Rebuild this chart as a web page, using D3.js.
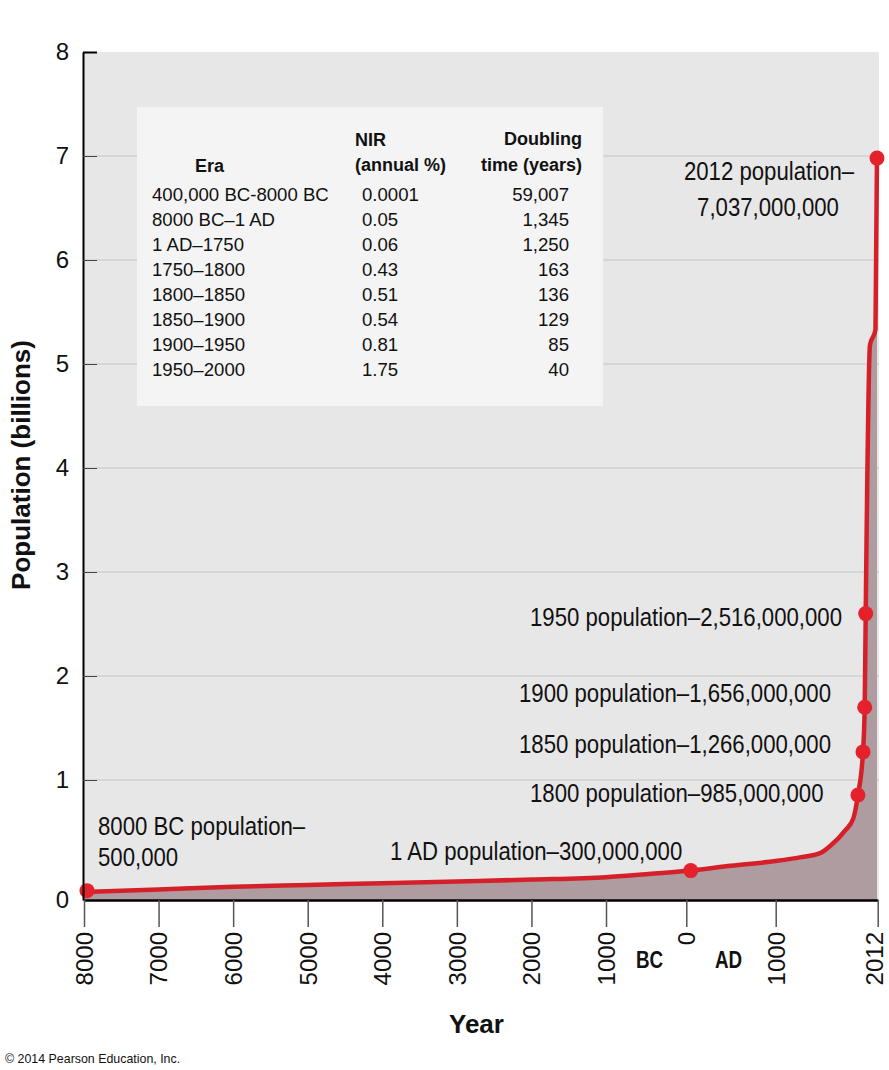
<!DOCTYPE html>
<html><head><meta charset="utf-8">
<script src="https://cdn.jsdelivr.net/npm/d3@7"></script>
<style>body{margin:0;background:#fff;} svg{display:block;}</style>
</head><body>
<script>
// ---- data (years: negative = BC; population in billions) ----
const curveYears = [-8000, -7000, -6000, -5000, -4000, -3000, -2000, -1000, -500, 50, 500, 1000, 1240, 1440, 1540, 1690, 1770, 1816, 1866, 1883, 1893, 1935, 1990, 2005];
const curvePop   = [0.067, 0.088, 0.11, 0.125, 0.14, 0.155, 0.17, 0.19, 0.215, 0.245, 0.285, 0.325, 0.355, 0.39, 0.45, 0.58, 0.68, 0.875, 1.27, 1.70, 2.60, 5.18, 5.33, 6.98];
const dotYears = [-7960, 50, 1816, 1866, 1883, 1893, 2005];
const dotPop   = [0.078, 0.245, 0.875, 1.27, 1.70, 2.60, 6.98];
const xTickValues = [-8000, -7000, -6000, -5000, -4000, -3000, -2000, -1000, 0, 1000, 2012];
const xTickLabels = ["8000", "7000", "6000", "5000", "4000", "3000", "2000", "1000", "0", "1000", "2012"];
const yTickValues = [0, 1, 2, 3, 4, 5, 6, 7, 8];
const tableEras = ["400,000 BC-8000 BC", "8000 BC\u20131 AD", "1 AD\u20131750", "1750\u20131800", "1800\u20131850", "1850\u20131900", "1900\u20131950", "1950\u20132000"];
const tableNIR = ["0.0001", "0.05", "0.06", "0.43", "0.51", "0.54", "0.81", "1.75"];
const tableDoubling = ["59,007", "1,345", "1,250", "163", "136", "129", "85", "40"];
const annotationLines = [
  "8000 BC population\u2013", "500,000",
  "1 AD population\u2013300,000,000",
  "1800 population\u2013985,000,000",
  "1850 population\u20131,266,000,000",
  "1900 population\u20131,656,000,000",
  "1950 population\u20132,516,000,000",
  "2012 population\u2013", "7,037,000,000"
];

// ---- drawing ----
const W = 889, H = 1070;
const SANS = "'Liberation Sans', Arial, Helvetica, sans-serif";
const svg = d3.select("body").append("svg").attr("width", W).attr("height", H);
svg.append("rect").attr("width", W).attr("height", H).attr("fill", "#fff");

const x = d3.scaleLinear().domain([-8000, -1000, 0, 1000, 2012]).range([84, 606, 686.3, 775.7, 877.7]);
const y = d3.scaleLinear().domain([0, 1, 8]).range([900, 780, 52]);

// plot background
svg.append("rect").attr("x", 84).attr("y", y(8)).attr("width", 879 - 84).attr("height", y(0) - y(8)).attr("fill", "#e7e7e7");

// gridlines
svg.append("g").selectAll("line").data(yTickValues.filter(v => v > 0 && v < 8)).join("line")
  .attr("x1", 84).attr("x2", 879).attr("y1", d => y(d)).attr("y2", d => y(d))
  .attr("stroke", "#c6c6c6").attr("stroke-width", 1);

const pts = curveYears.map((yr, i) => ({ year: yr, pop: curvePop[i] }));
const area = d3.area().x(d => x(d.year)).y0(y(0)).y1(d => y(d.pop)).curve(d3.curveMonotoneX);
const line = d3.line().x(d => x(d.year)).y(d => y(d.pop)).curve(d3.curveMonotoneX);
svg.append("path").datum(pts).attr("d", area).attr("fill", "#ae9ca0");
svg.append("path").datum(pts).attr("d", line).attr("fill", "none").attr("stroke", "#d5202a").attr("stroke-width", 4.5).attr("stroke-linejoin", "round");

svg.append("g").selectAll("circle").data(dotYears.map((yr, i) => ({ year: yr, pop: dotPop[i] }))).join("circle")
  .attr("cx", d => x(d.year)).attr("cy", d => y(d.pop)).attr("r", 7.5).attr("fill", "#e5222c");

// table
const tbl = svg.append("g");
tbl.append("rect").attr("x", 137).attr("y", 107).attr("width", 466).attr("height", 299).attr("fill", "#f4f4f4");
const hdr = (t, xx, yy, anchor) => tbl.append("text").attr("x", xx).attr("y", yy).attr("text-anchor", anchor)
  .attr("font-family", SANS).attr("font-weight", "bold").attr("font-size", 18).attr("fill", "#111").text(t);
hdr("Era", 195, 172, "start");
hdr("NIR", 355, 146, "start");
hdr("(annual %)", 355, 171, "start");
hdr("Doubling", 582, 145, "end");
hdr("time (years)", 582, 171, "end");
tableEras.forEach((e, i) => {
  const yy = 201 + i * 25;
  tbl.append("text").attr("x", 152).attr("y", yy).attr("font-family", SANS).attr("font-size", 18.6).attr("fill", "#111").text(e);
  tbl.append("text").attr("x", 362).attr("y", yy).attr("font-family", SANS).attr("font-size", 18.6).attr("fill", "#111").text(tableNIR[i]);
  tbl.append("text").attr("x", 569).attr("y", yy).attr("text-anchor", "end").attr("font-family", SANS).attr("font-size", 18.6).attr("fill", "#111").text(tableDoubling[i]);
});

// y axis
const yAxis = svg.append("g").attr("transform", "translate(83,0)")
  .call(d3.axisLeft(y).tickValues(yTickValues).tickSize(-14).tickSizeOuter(0).tickPadding(14).tickFormat(d3.format("d")));
yAxis.select(".domain").attr("stroke", "#000").attr("stroke-width", 2);
yAxis.selectAll(".tick line").attr("stroke", d => d === 8 ? "#000" : "#444").attr("stroke-width", d => d === 8 ? 2 : 1);
yAxis.selectAll(".tick text").attr("font-family", SANS).attr("font-size", 24).attr("fill", "#111");

// x axis
const xAxis = svg.append("g").attr("transform", `translate(0,${y(0)})`)
  .call(d3.axisBottom(x).tickValues(xTickValues).tickSize(27).tickSizeOuter(0).tickFormat((d, i) => xTickLabels[i]));
xAxis.select(".domain").attr("stroke", "#000").attr("stroke-width", 2.5);
xAxis.selectAll(".tick line").attr("stroke", "#555").attr("stroke-width", 1.5);
xAxis.selectAll(".tick text").attr("transform", "rotate(-90)").attr("x", -32)
  .attr("y", d => d === 2012 ? -4 : 0).attr("dy", "0.35em")
  .attr("text-anchor", "end").attr("font-family", SANS).attr("font-size", 24).attr("fill", "#111");

// axis titles
svg.append("text").attr("transform", "translate(30,465) rotate(-90)").attr("text-anchor", "middle")
  .attr("font-family", SANS).attr("font-weight", "bold").attr("font-size", 26).attr("fill", "#111").text("Population (billions)");
svg.append("text").attr("x", 449).attr("y", 1033).attr("font-family", SANS).attr("font-weight", "bold").attr("font-size", 26).attr("fill", "#111").text("Year");
const condensed = (t, xx, yy, size, weight, anchor, sx) => svg.append("text")
  .attr("transform", `translate(${xx},${yy}) scale(${sx},1)`).attr("text-anchor", anchor)
  .attr("font-family", SANS).attr("font-weight", weight).attr("font-size", size).attr("fill", "#111").text(t);
condensed("BC", 636, 968, 23.5, "bold", "start", 0.8);
condensed("AD", 715, 968, 23.5, "bold", "start", 0.8);
svg.append("text").attr("x", 5).attr("y", 1063).attr("font-family", SANS).attr("font-size", 12.4).attr("fill", "#111").text("\u00a9 2014 Pearson Education, Inc.");

// annotations (condensed sans)
const annPos = [
  [98, 835, "start"], [98, 866, "start"],
  [390, 860, "start"],
  [530, 802, "start"],
  [519, 753, "start"],
  [519, 702, "start"],
  [530, 626, "start"],
  [769, 180, "middle"], [768, 216, "middle"]
];
annotationLines.forEach((t, i) => condensed(t, annPos[i][0], annPos[i][1], 25.5, "normal", annPos[i][2], 0.87));
</script>
</body></html>
